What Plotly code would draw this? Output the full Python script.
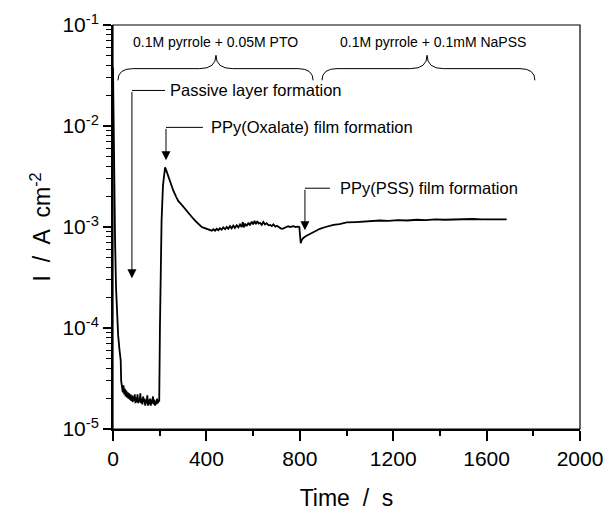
import plotly.graph_objects as go

# ---- data ----
t_decay = [0, 2, 4, 6, 9, 13, 17, 22, 28, 33, 35, 37]
i_decay = [3.8e-2, 1.0e-2, 3.0e-3, 1.5e-3, 7e-4, 2.5e-4, 1.2e-4, 8.5e-5, 6.0e-5, 4.8e-5, 3.0e-5, 2.7e-5]

t_passive = [39, 42, 45, 48, 51, 54, 57, 60, 63, 66, 69, 72, 75, 78, 81, 84, 87, 90, 93, 96,
             99, 102, 105, 108, 111, 114, 117, 120, 123, 126, 129, 132, 135, 138, 141, 144,
             147, 150, 153, 156, 159, 162, 165, 168, 171, 174, 177, 180, 183, 186, 189, 192, 195]
i_passive = [2.6e-5, 2.3e-5, 2.7e-5, 2.2e-5, 2.5e-5, 2.1e-5, 2.4e-5, 2.05e-5, 2.3e-5, 2.0e-5,
             2.25e-5, 1.95e-5, 2.2e-5, 1.9e-5, 2.15e-5, 1.85e-5, 2.1e-5, 1.9e-5, 2.2e-5, 1.8e-5,
             2.05e-5, 1.85e-5, 2.2e-5, 1.8e-5, 2.0e-5, 1.85e-5, 2.25e-5, 1.8e-5, 2.0e-5, 1.75e-5,
             2.1e-5, 1.85e-5, 2.0e-5, 1.7e-5, 1.95e-5, 1.8e-5, 2.15e-5, 1.7e-5, 1.95e-5, 1.75e-5,
             2.0e-5, 1.7e-5, 1.95e-5, 1.8e-5, 2.1e-5, 1.75e-5, 1.95e-5, 1.7e-5, 1.9e-5, 1.75e-5,
             2.0e-5, 1.8e-5, 1.9e-5]

t_oxalate = [198, 201, 204, 208, 214, 219, 223, 227, 232, 237, 245, 258, 270, 280, 290, 301,
             315, 330, 345, 358, 370, 380, 390, 401, 412, 423]
i_oxalate = [1.9e-5, 1.0e-4, 5.0e-4, 1.15e-3, 2.57e-3, 3.5e-3, 3.9e-3, 3.7e-3, 3.4e-3, 3.2e-3,
             2.85e-3, 2.3e-3, 2.0e-3, 1.8e-3, 1.7e-3, 1.58e-3, 1.45e-3, 1.3e-3, 1.2e-3, 1.12e-3,
             1.05e-3, 1.0e-3, 0.98e-3, 0.96e-3, 0.93e-3, 0.92e-3]

t_plateau = [430, 437, 444, 451, 458, 465, 472, 480, 487, 494, 501, 508, 515, 522, 530, 537,
             544, 551, 556, 560, 566, 572, 580, 586, 594, 600, 606, 612, 618, 624, 630, 637,
             644, 651, 658, 666, 673, 680, 687, 695, 702, 710, 718, 726, 734, 742, 750, 758,
             766, 774, 782, 790, 798]
i_plateau = [0.95e-3, 0.92e-3, 0.96e-3, 0.93e-3, 0.97e-3, 0.94e-3, 0.99e-3, 0.95e-3, 1.0e-3,
             0.96e-3, 1.02e-3, 0.97e-3, 1.03e-3, 0.98e-3, 1.04e-3, 0.99e-3, 1.06e-3, 1.0e-3,
             1.12e-3, 0.99e-3, 1.08e-3, 1.02e-3, 1.1e-3, 1.04e-3, 1.13e-3, 1.06e-3, 1.15e-3,
             1.07e-3, 1.14e-3, 1.08e-3, 1.1e-3, 1.05e-3, 1.12e-3, 1.06e-3, 1.09e-3, 1.04e-3,
             1.05e-3, 1.02e-3, 1.06e-3, 1.01e-3, 1.03e-3, 0.99e-3, 0.97e-3, 0.96e-3, 0.98e-3,
             1.0e-3, 1.02e-3, 1.0e-3, 1.01e-3, 1.02e-3, 1.0e-3, 1.01e-3, 1.0e-3]

t_pss = [801, 804, 808, 815, 825, 844, 865, 886, 910, 944, 970, 1001, 1040, 1086, 1120, 1143,
         1180, 1220, 1260, 1300, 1340, 1380, 1420, 1460, 1500, 1540, 1580, 1620, 1660, 1686]
i_pss = [0.85e-3, 0.69e-3, 0.74e-3, 0.78e-3, 0.81e-3, 0.85e-3, 0.9e-3, 0.96e-3, 1.0e-3, 1.05e-3,
         1.07e-3, 1.11e-3, 1.12e-3, 1.135e-3, 1.14e-3, 1.16e-3, 1.15e-3, 1.17e-3, 1.16e-3,
         1.18e-3, 1.17e-3, 1.19e-3, 1.18e-3, 1.19e-3, 1.18e-3, 1.2e-3, 1.19e-3, 1.2e-3, 1.19e-3, 1.19e-3]

y_tickvals = [1e-5, 1e-4, 1e-3, 1e-2, 1e-1]
y_ticktext = ["10<sup>-5</sup>", "10<sup>-4</sup>", "10<sup>-3</sup>", "10<sup>-2</sup>", "10<sup>-1</sup>"]
y_minor_vals = [m * d for d in [1e-5, 1e-4, 1e-3, 1e-2] for m in range(2, 10)]
x_tickvals = [0, 400, 800, 1200, 1600, 2000]
x_minor_vals = [200, 600, 1000, 1400, 1800]

solution_labels = ["0.1M pyrrole + 0.05M PTO", "0.1M pyrrole + 0.1mM NaPSS"]
event_labels = ["Passive layer formation", "PPy(Oxalate) film formation", "PPy(PSS) film formation"]

time = t_decay + t_passive + t_oxalate + t_plateau + t_pss
current = i_decay + i_passive + i_oxalate + i_plateau + i_pss

FONT = "Arial, Liberation Sans, Helvetica, sans-serif"
TICK = "#000000"

fig = go.Figure()
fig.add_trace(go.Scatter(x=time, y=current, mode="lines",
                         line=dict(color="black", width=1.8), hoverinfo="skip",
                         showlegend=False))

# ---- braces (x in data, y in paper) ----
def brace(x0, x1, xm, yE=0.863, yF=0.892, yT=0.925, r=64, rm=70):
    return (f"M {x0},{yE} Q {x0},{yF} {x0 + r},{yF} L {xm - rm},{yF} "
            f"Q {xm},{yF} {xm},{yT} Q {xm},{yF} {xm + rm},{yF} "
            f"L {x1 - r},{yF} Q {x1},{yF} {x1},{yE}")

shapes = [
    dict(type="path", xref="x", yref="paper", path=brace(21, 857, 441),
         line=dict(color="black", width=1)),
    dict(type="path", xref="x", yref="paper", path=brace(895, 1807, 1345),
         line=dict(color="black", width=1)),
    dict(type="rect", xref="paper", yref="paper", x0=0, x1=1, y0=0, y1=1,
         line=dict(color="black", width=1.2)),
]

# event arrows: (arrow x, top paper y, tip paper y, line end x, text x)
events = [
    (81, 0.838, 0.373, 223, 234),
    (227, 0.7466, 0.665, 385, 413),
    (822, 0.596, 0.492, 929, 962),
]
annotations = []
PLOT_H = 404
for (xa, ytop, ytip, xend, xtxt), lab in zip(events, event_labels):
    shapes.append(dict(type="line", xref="x", yref="paper", x0=xa, x1=xend, y0=ytop, y1=ytop,
                       line=dict(color="black", width=1)))
    annotations.append(dict(xref="x", yref="paper", x=xa, y=ytip, ax=0,
                            ay=-(ytop - ytip) * PLOT_H, showarrow=True, arrowhead=2,
                            arrowsize=1.8, arrowwidth=1, arrowcolor="black", standoff=0,
                            text=""))
    annotations.append(dict(xref="x", yref="paper", x=xtxt, y=ytop, text=lab,
                            showarrow=False, xanchor="left", yanchor="middle",
                            font=dict(family=FONT, size=16.5, color="black")))

for xc, lab in zip([437, 1370], solution_labels):
    annotations.append(dict(xref="x", yref="paper", x=xc, y=0.957, text=lab,
                            showarrow=False, xanchor="center", yanchor="middle",
                            font=dict(family=FONT, size=14, color="black")))

fig.update_layout(
    width=608, height=511,
    margin=dict(l=113, r=28, t=25, b=82, autoexpand=False),
    paper_bgcolor="white", plot_bgcolor="white",
    font=dict(family=FONT, color="black"),
    shapes=shapes, annotations=annotations,
    xaxis=dict(range=[0, 2000], tickmode="array", tickvals=x_tickvals, ticks="outside",
               ticklen=10, tickwidth=2, tickcolor=TICK, showline=True, linewidth=2,
               linecolor="black", showgrid=False, zeroline=False,
               tickfont=dict(size=21, family=FONT),
               minor=dict(tickmode="array", tickvals=x_minor_vals, ticks="outside", ticklen=5,
                          tickwidth=1.5, tickcolor=TICK),
               title=dict(text="Time  /  s", font=dict(size=23, family=FONT), standoff=22)),
    yaxis=dict(type="log", range=[-5, -1], tickmode="array", tickvals=y_tickvals,
               ticktext=y_ticktext, ticks="outside", ticklen=8, tickwidth=2,
               tickcolor=TICK, showline=True, linewidth=2, linecolor="black",
               showgrid=False, zeroline=False,
               tickfont=dict(size=21, family=FONT),
               minor=dict(tickmode="array", tickvals=y_minor_vals, ticks="outside", ticklen=5,
                          tickwidth=1.2, tickcolor=TICK),
               title=dict(text="I  /  A  cm<sup>-2</sup>", font=dict(size=23, family=FONT),
                          standoff=5)),
)

fig.write_html("out.html")
